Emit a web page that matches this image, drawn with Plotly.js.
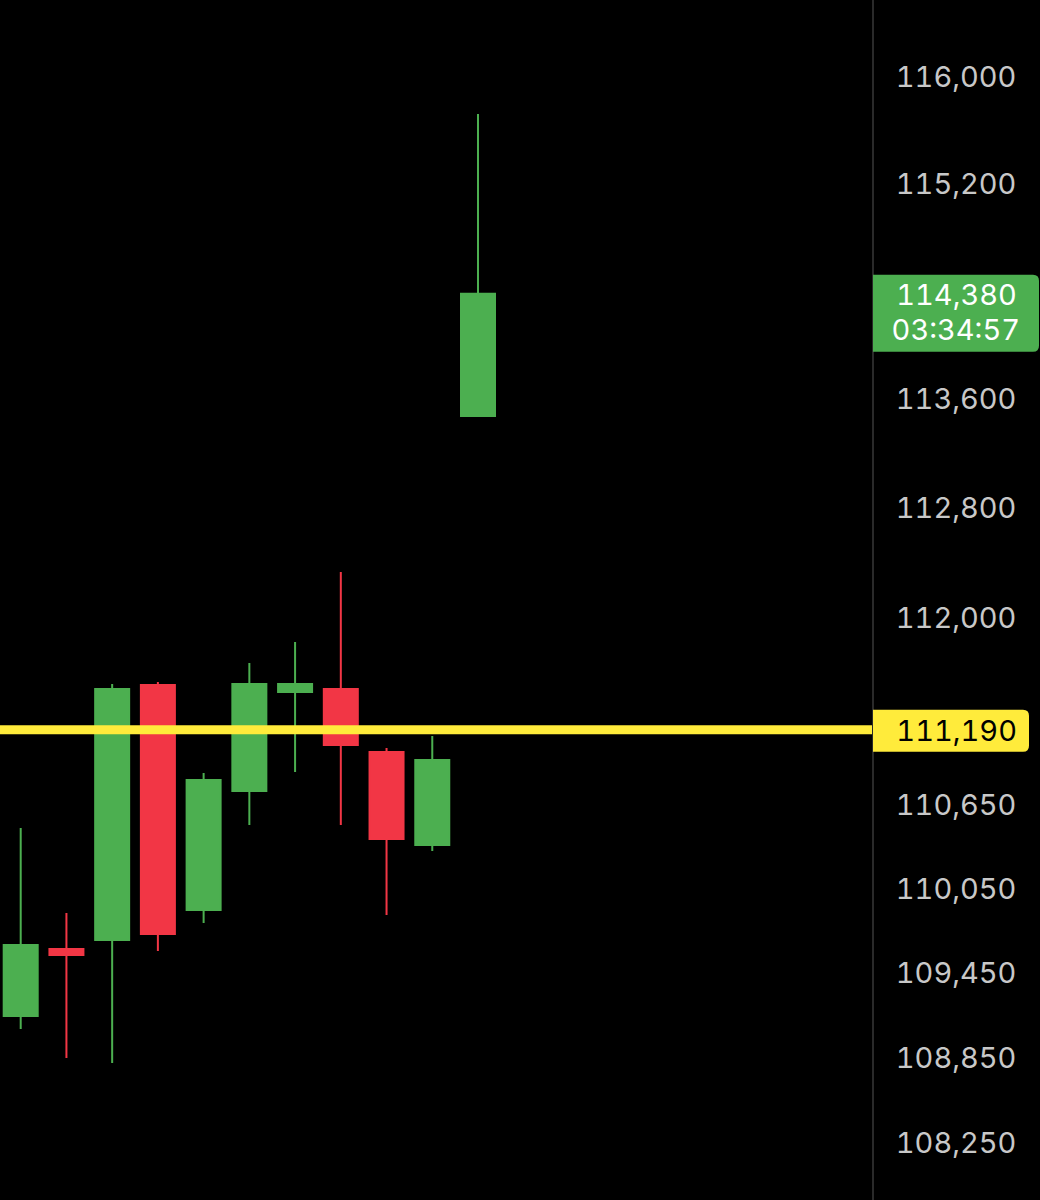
<!DOCTYPE html>
<html>
<head>
<meta charset="utf-8">
<script src="https://cdn.plot.ly/plotly-3.0.1.min.js"></script>
<style>
  html, body { margin: 0; padding: 0; background: #000; }
  #chart { width: 1040px; height: 1200px; }
  #chart text { font-variant-numeric: tabular-nums; font-feature-settings: "tnum" 1; }
</style>
</head>
<body>
<div id="chart"></div>
<script>
// ---- data ----
var candleIndex = [0, 1, 2, 3, 4, 5, 6, 7, 8, 9, 10];
var openPrices  = [109145, 109620, 109684, 111514, 109898, 110750, 111463, 111485, 111030, 110363, 113477];
var highPrices  = [110484, 109877, 111521, 111536, 110879, 111673, 111825, 112334, 111059, 111146, 115722];
var lowPrices   = [109053, 108848, 108813, 109606, 109806, 110506, 110886, 110506, 109863, 110320, 113470];
var closePrices = [109649, 109578, 111485, 109727, 110829, 111521, 111521, 111081, 110405, 110973, 114380];

var tickValues = [116000, 115200, 113600, 112800, 112000, 110650, 110050, 109450, 108850, 108250];
var tickLabels = ["116,000", "115,200", "113,600", "112,800", "112,000", "110,650", "110,050", "109,450", "108,850", "108,250"];

var levelPrice = 111190;
var levelLabel = "111,190";
var lastPrice = 114380;
var lastPriceLabel = "114,380";
var countdownLabel = "03:34:57";

// ---- styling ----
var GREEN = "#4CAF50";
var RED = "#F23645";
var YELLOW = "#FFEB3B";
var FONT = "Inter, 'Noto Sans', sans-serif";

var yRange = [Math.log10(107850), Math.log10(116581)];
var xRange = [-0.4527, 18.616];

var levelTrace = {
  type: "scatter",
  mode: "lines",
  x: [xRange[0] - 5, xRange[1] + 5],
  y: [levelPrice, levelPrice],
  line: { color: YELLOW, width: 9 },
  hoverinfo: "skip"
};

var candleTrace = {
  type: "candlestick",
  x: candleIndex,
  open: openPrices,
  high: highPrices,
  low: lowPrices,
  close: closePrices,
  increasing: { line: { color: GREEN, width: 2 }, fillcolor: GREEN },
  decreasing: { line: { color: RED, width: 2 }, fillcolor: RED },
  whiskerwidth: 0,
  hoverinfo: "skip"
};

function roundedRightBox(w, top, bottom, r) {
  return "M 1," + top +
    " L " + (w - r) + "," + top +
    " Q " + w + "," + top + " " + w + "," + (top - r) +
    " L " + w + "," + (bottom + r) +
    " Q " + w + "," + bottom + " " + (w - r) + "," + bottom +
    " L 1," + bottom + " Z";
}

var layout = {
  width: 1040,
  height: 1200,
  margin: { l: 0, r: 168, t: 0, b: 0, pad: 0 },
  paper_bgcolor: "#000000",
  plot_bgcolor: "#000000",
  showlegend: false,
  boxgap: 0.2565,
  boxgroupgap: 0,
  xaxis: {
    range: xRange,
    visible: false,
    showgrid: false,
    zeroline: false,
    rangeslider: { visible: false },
    fixedrange: true
  },
  yaxis: {
    type: "log",
    side: "right",
    range: yRange,
    showgrid: false,
    zeroline: false,
    showline: true,
    linecolor: "#2a2a2a",
    linewidth: 2,
    ticks: "",
    tickmode: "array",
    tickvals: tickValues,
    ticktext: tickLabels,
    ticklabelstandoff: 16,
    tickfont: { family: FONT, size: 29, color: "#c8c8c8" },
    fixedrange: true
  },
  shapes: [
    {
      type: "path",
      xref: "paper", xsizemode: "pixel", xanchor: 1,
      yref: "y", ysizemode: "pixel", yanchor: lastPrice,
      path: roundedRightBox(167, 19, -58, 6),
      fillcolor: GREEN,
      line: { width: 0 },
      layer: "above"
    },
    {
      type: "path",
      xref: "paper", xsizemode: "pixel", xanchor: 1,
      yref: "y", ysizemode: "pixel", yanchor: levelPrice,
      path: roundedRightBox(157, 20, -22, 6),
      fillcolor: YELLOW,
      line: { width: 0 },
      layer: "above"
    }
  ],
  annotations: [
    {
      xref: "paper", x: 1, xanchor: "center", xshift: 84,
      yref: "y", y: Math.log10(lastPrice), yanchor: "middle", yshift: -1,
      text: lastPriceLabel, showarrow: false,
      font: { family: FONT, size: 29, color: "#ffffff" }
    },
    {
      xref: "paper", x: 1, xanchor: "center", xshift: 84,
      yref: "y", y: Math.log10(lastPrice), yanchor: "middle", yshift: -36,
      text: countdownLabel, showarrow: false,
      font: { family: FONT, size: 29, color: "#ffffff" }
    },
    {
      xref: "paper", x: 1, xanchor: "center", xshift: 84,
      yref: "y", y: Math.log10(levelPrice), yanchor: "middle", yshift: -1,
      text: levelLabel, showarrow: false,
      font: { family: FONT, size: 29, color: "#000000" }
    }
  ]
};

Plotly.newPlot("chart", [levelTrace, candleTrace], layout, { displayModeBar: false, staticPlot: true });
</script>
</body>
</html>
